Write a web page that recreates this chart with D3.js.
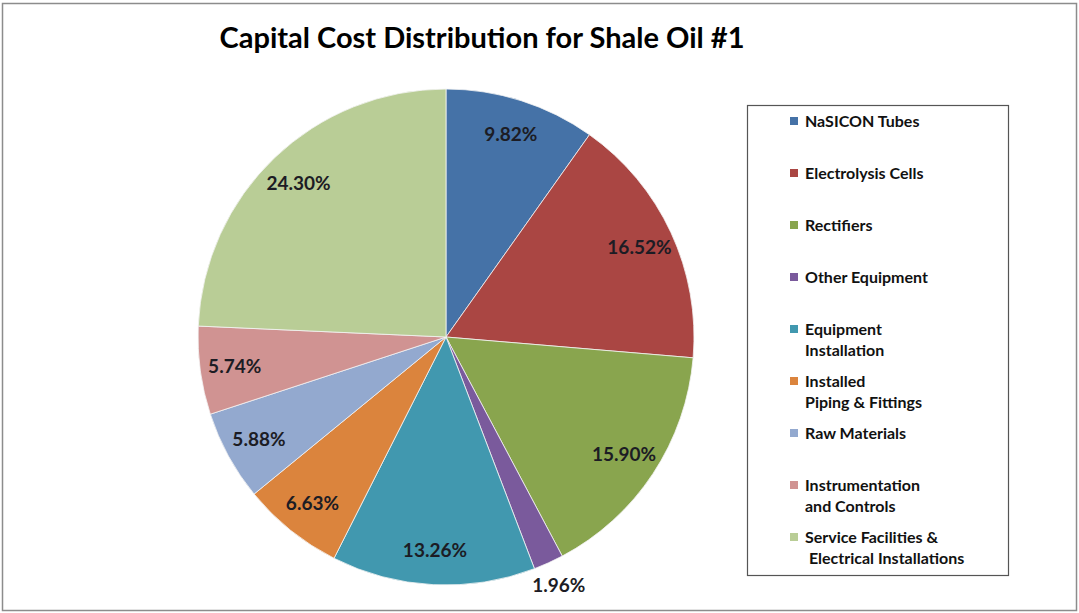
<!DOCTYPE html>
<html>
<head>
<meta charset="utf-8">
<script src="https://cdn.jsdelivr.net/npm/d3@7"></script>
<style>
  html, body { margin: 0; padding: 0; background: #fff; }
  svg { display: block; }
  text { font-family: Lato, "Open Sans", sans-serif; font-weight: 700; }
</style>
</head>
<body>
<svg id="chart" width="1079" height="613"></svg>
<script>
// Cost categories (legend order = slice order, clockwise from 12 o'clock)
const categories = [
  "NaSICON Tubes",
  "Electrolysis Cells",
  "Rectifiers",
  "Other Equipment",
  "Equipment|Installation",
  "Installed|Piping & Fittings",
  "Raw Materials",
  "Instrumentation|and Controls",
  "Service Facilities &| Electrical Installations"
];
// Share of capital cost, percent
const shares = [9.82, 16.52, 15.90, 1.96, 13.26, 6.63, 5.88, 5.74, 24.30];
const palette = ["#4572A7", "#AA4643", "#89A54E", "#7A5A9C", "#4198AF",
                 "#DB843D", "#93A9CF", "#D09392", "#B9CD96"];
const title = "Capital Cost Distribution for Shale Oil #1";

const svg = d3.select("#chart");
const W = 1079, H = 613;

// outer frame
svg.append("rect")
  .attr("x", 2.5).attr("y", 3.5).attr("width", W - 5).attr("height", H - 6)
  .attr("fill", "#fff").attr("stroke", "#8c8c8c").attr("stroke-width", 1.5);

svg.append("text")
  .attr("x", 482).attr("y", 48)
  .attr("text-anchor", "middle")
  .attr("font-size", 29)
  .attr("fill", "#000")
  .text(title);

const cx = 446, cy = 337, R = 248;
const data = categories.map((c, i) => ({ name: c, value: shares[i], color: palette[i] }));

const pie = d3.pie().value(d => d.value).sort(null);
const arcs = pie(data);
const arc = d3.arc().innerRadius(0).outerRadius(R);

const g = svg.append("g").attr("transform", `translate(${cx},${cy})`);

g.selectAll("path.slice")
  .data(arcs)
  .join("path")
  .attr("class", "slice")
  .attr("d", arc)
  .attr("fill", d => d.data.color)
  .attr("stroke", "#f4f4f4")
  .attr("stroke-width", 0.8);

// value labels: inside near rim, small slices pushed outside
const inner = d3.arc().innerRadius(R * 0.86).outerRadius(R * 0.86);
const outer = d3.arc().innerRadius(R * 1.1).outerRadius(R * 1.1);
g.selectAll("text.val")
  .data(arcs)
  .join("text")
  .attr("class", "val")
  .attr("transform", d => `translate(${(d.data.value < 3 ? outer : inner).centroid(d)})`)
  .attr("text-anchor", "middle")
  .attr("dy", "0.36em")
  .attr("font-size", 19)
  .attr("fill", "#1c1c24")
  .text(d => d.data.value.toFixed(2) + "%");

// legend
const lg = svg.append("g");
lg.append("rect")
  .attr("x", 747.5).attr("y", 105.5).attr("width", 261).attr("height", 470)
  .attr("fill", "#fff").attr("stroke", "#555").attr("stroke-width", 1.2);

const rowY = d3.scaleLinear().domain([0, 8]).range([121, 537]);
const items = lg.selectAll("g.item")
  .data(data)
  .join("g")
  .attr("class", "item")
  .attr("transform", (d, i) => `translate(790,${rowY(i)})`);

items.append("rect")
  .attr("x", 0).attr("y", -4).attr("width", 8).attr("height", 8)
  .attr("fill", d => d.color);

items.append("text")
  .attr("x", 15)
  .attr("font-size", 16)
  .attr("fill", "#111")
  .each(function (d) {
    const lines = d.name.split("|");
    d3.select(this).selectAll("tspan")
      .data(lines)
      .join("tspan")
      .attr("x", 15)
      .attr("dy", (l, j) => j === 0 ? "0.36em" : "1.32em")
      .attr("xml:space", "preserve")
      .text(l => l);
  });
</script>
</body>
</html>
